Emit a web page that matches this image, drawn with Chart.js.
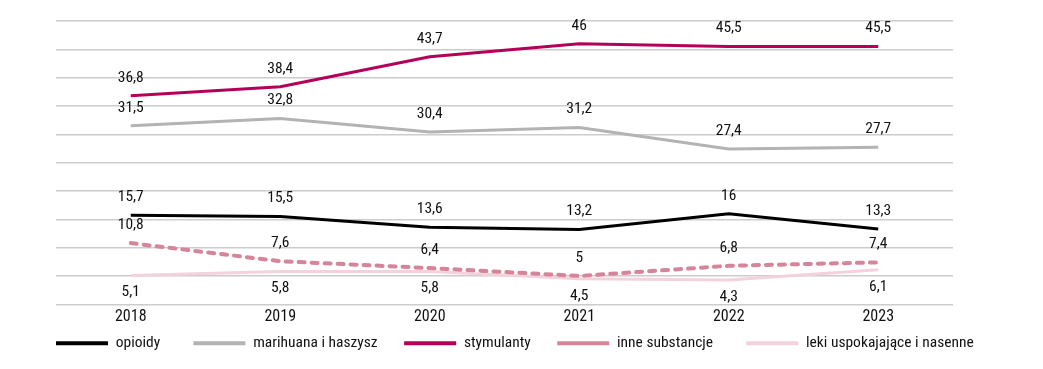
<!DOCTYPE html>
<html>
<head>
<meta charset="utf-8">
<script src="https://cdn.jsdelivr.net/npm/chart.js@4.4.1/dist/chart.umd.min.js"></script>
<style>
  html, body { margin: 0; padding: 0; background: #ffffff; }
  #wrap { width: 1043px; height: 369px; }
</style>
</head>
<body>
<div id="wrap"><canvas id="c" width="1043" height="369"></canvas></div>
<script>
const years = ['2018', '2019', '2020', '2021', '2022', '2023'];
const opioidy = [15.7, 15.5, 13.6, 13.2, 16, 13.3];
const marihuana = [31.5, 32.8, 30.4, 31.2, 27.4, 27.7];
const stymulanty = [36.8, 38.4, 43.7, 46, 45.5, 45.5];
const inneSubstancje = [10.8, 7.6, 6.4, 5, 6.8, 7.4];
const leki = [5.1, 5.8, 5.8, 4.5, 4.3, 6.1];
const seriesNames = ['opioidy', 'marihuana i haszysz', 'stymulanty', 'inne substancje', 'leki uspokajające i nasenne'];
const yTicks = [0, 5, 10, 15, 20, 25, 30, 35, 40, 45, 50];

const FONT = "'Roboto Condensed', 'DejaVu Sans Condensed', sans-serif";
Chart.defaults.font.family = FONT;
Chart.defaults.color = '#111111';

const fmt = v => String(v).replace('.', ',');

const labelPlugin = {
  id: 'pointLabels',
  afterDatasetsDraw(chart) {
    const ctx = chart.ctx;
    ctx.save();
    ctx.font = '15.5px ' + FONT;
    ctx.fillStyle = '#111111';
    ctx.textAlign = 'center';
    ctx.textBaseline = 'middle';
    chart.data.datasets.forEach((ds, i) => {
      const meta = chart.getDatasetMeta(i);
      meta.data.forEach((pt, j) => {
        const y = ds.labelBelow ? pt.y + 17 : pt.y - 18;
        ctx.fillText(fmt(ds.data[j]), pt.x, y);
      });
    });
    ctx.restore();
  }
};

new Chart(document.getElementById('c'), {
  type: 'line',
  data: {
    labels: years,
    datasets: [
      { label: seriesNames[0], data: opioidy, borderColor: '#000000', backgroundColor: '#000000', borderWidth: 3 },
      { label: seriesNames[1], data: marihuana, borderColor: '#b3b3b3', backgroundColor: '#b3b3b3', borderWidth: 3 },
      { label: seriesNames[2], data: stymulanty, borderColor: '#b5005a', backgroundColor: '#b5005a', borderWidth: 3 },
      { label: seriesNames[3], data: inneSubstancje, borderColor: '#d6849a', backgroundColor: '#d6849a', borderWidth: 4, borderDash: [6, 7], borderCapStyle: 'round' },
      { label: seriesNames[4], data: leki, borderColor: '#f3d2dc', backgroundColor: '#f3d2dc', borderWidth: 3, labelBelow: true }
    ]
  },
  options: {
    responsive: false,
    animation: false,
    devicePixelRatio: 1,
    layout: { padding: { left: 50, right: 10, top: 21, bottom: 8 } },
    elements: {
      point: { radius: 0, hoverRadius: 0 },
      line: { tension: 0, borderCapStyle: 'butt' }
    },
    scales: {
      x: {
        offset: true,
        grid: { display: false, drawTicks: false },
        border: { display: false },
        ticks: { font: { size: 16 }, color: '#111111', padding: 3 }
      },
      y: {
        min: 0,
        max: 50,
        afterBuildTicks: axis => { axis.ticks = yTicks.map(v => ({ value: v })); },
        afterFit: axis => { axis.width = 6; },
        grid: { color: '#cccccc', lineWidth: 1.5, drawTicks: false },
        border: { display: false },
        ticks: { display: false }
      },
      yRight: {
        position: 'right',
        min: 0,
        max: 50,
        afterFit: axis => { axis.width = 80; },
        grid: { display: false, drawTicks: false },
        border: { display: false },
        ticks: { display: false }
      }
    },
    plugins: {
      tooltip: { enabled: false },
      legend: {
        position: 'bottom',
        align: 'start',
        labels: {
          usePointStyle: true,
          pointStyle: 'line',
          pointStyleWidth: 52,
          padding: 6,
          font: { size: 15.5 },
          color: '#111111',
          generateLabels(chart) {
            const items = Chart.defaults.plugins.legend.labels.generateLabels(chart);
            const extra = ['\u2003\u2003', '\u2003\u2002', '\u2003\u2002', '\u2003\u2003', ''];
            items.forEach((it, i) => {
              it.text = it.text + extra[i];
              it.lineWidth = 4;
            });
            return items;
          }
        }
      }
    }
  },
  plugins: [labelPlugin]
});
</script>
</body>
</html>
